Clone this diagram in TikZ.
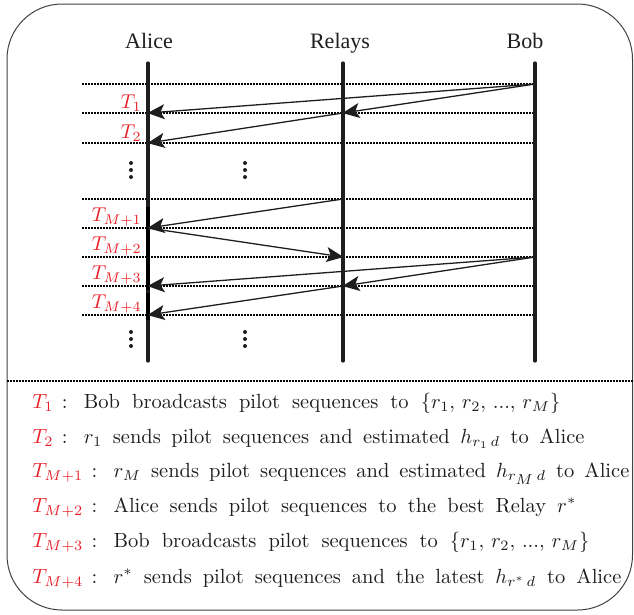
\documentclass[tikz,border=0pt]{standalone}
\usepackage{fontspec}
\newfontfamily\headfont{Liberation Serif}
\usetikzlibrary{arrows.meta}
\definecolor{tred}{RGB}{232,32,40}
\definecolor{ink}{RGB}{30,30,30}
\newcommand{\legline}[3]{\hbox to #1pt{\textcolor{tred}{$#2$}\kern 4pt:\kern 8pt #3}}
\begin{document}
\begin{tikzpicture}[x=1pt,y=-1pt,
  life/.style={line width=3.2pt, draw=ink, line cap=round},
  active/.style={line width=4.2pt, draw=black},
  slot/.style={line width=1.1pt, draw=black, dash pattern=on 1.7pt off 1.3pt},
  msg/.style={line width=1.3pt, draw=ink, shorten >=-0.5pt, -{Stealth[length=17pt,width=15pt,inset=4pt]}},
  head/.style={font=\headfont\fontsize{22}{26}\selectfont, text=ink, inner sep=0pt, anchor=base},
  tlab/.style={text=tred, scale=2, inner sep=0pt, anchor=south east},
  desc/.style={text=ink, scale=2.05, inner sep=0pt, anchor=base west},
  vdot/.style={fill=ink, draw=none},
]
\useasboundingbox (0,0) rectangle (634,614);
% frame
\draw[draw=ink!85, line width=1pt, rounded corners=55pt] (7,4) rectangle (632.5,610);
\draw[slot] (7,381) -- (634,381);

% headers
\node[head] (alice) at (149,48) {Alice};
\node[head] (relays) at (340,48) {Relays};
\node[head] (bob) at (525,48) {Bob};

% lifelines
\coordinate (Atop) at (148,63); \coordinate (Abot) at (148,361);
\coordinate (Rtop) at (343,63); \coordinate (Rbot) at (343,361);
\coordinate (Btop) at (535,63); \coordinate (Bbot) at (535,361);

% slot levels
\foreach \i/\y in {0/84,1/113,2/143,3/199,4/228,5/257,6/286,7/315}{
  \coordinate (L\i) at (82,\y);
  \coordinate (A\i) at (148,\y);
  \coordinate (R\i) at (343,\y);
  \coordinate (B\i) at (535,\y);
  \draw[slot] (L\i) -- (B\i);
}

\draw[life] (Atop) -- (Abot);
\draw[life] (Rtop) -- (Rbot);
\draw[life] (Btop) -- (Bbot);
\draw[active] (148,207) -- (148,290);
\draw[active] (148,293) -- (148,320);

% vertical dots
\foreach \x in {131,245}{
  \foreach \y in {163,170,177,332,339,346}{
    \fill[vdot] (\x,\y) circle (2pt);
  }
}

% messages
\draw[msg] (B0) -- (A1);
\draw[msg] (B0) -- (R1);
\draw[msg] (R1) -- (A2);
\draw[msg] (R3) -- (A4);
\draw[msg] (A4) -- (R5);
\draw[msg] (B5) -- (A6);
\draw[msg] (B5) -- (R6);
\draw[msg] (R6) -- (A7);

% time labels
\node[tlab] (t1) at (142,112) {$T_1$};
\node[tlab] (t2) at (142,142) {$T_2$};
\node[tlab] (tm1) at (142,227) {$T_{M+1}$};
\node[tlab] (tm2) at (142,256) {$T_{M+2}$};
\node[tlab] (tm3) at (142,285) {$T_{M+3}$};
\node[tlab] (tm4) at (142,314) {$T_{M+4}$};

% legend
\node[desc] (d1) at (32,408) {\legline{257.5}{T_1}{Bob broadcasts pilot sequences to $\{r_1,\, r_2,\, ...,\, r_M\}$}};
\node[desc] (d2) at (32,443) {\legline{269.3}{T_2}{$r_1$ sends pilot sequences and estimated $h_{r_1\,d}$ to Alice}};
\node[desc] (d3) at (32,477) {\legline{291.2}{T_{M+1}}{$r_M$ sends pilot sequences and estimated $h_{r_{\scriptstyle M}\,d}$ to Alice}};
\node[desc] (d4) at (32,512) {\legline{265.4}{T_{M+2}}{Alice sends pilot sequences to the best Relay $r^*$}};
\node[desc] (d5) at (32,547) {\legline{271.7}{T_{M+3}}{Bob broadcasts pilot sequences to $\{r_1,\, r_2,\, ...,\, r_M\}$}};
\node[desc] (d6) at (32,583) {\legline{287.3}{T_{M+4}}{$r^*$ sends pilot sequences and the latest $h_{r^{*}\,d}$ to Alice}};
\end{tikzpicture}
\end{document}
